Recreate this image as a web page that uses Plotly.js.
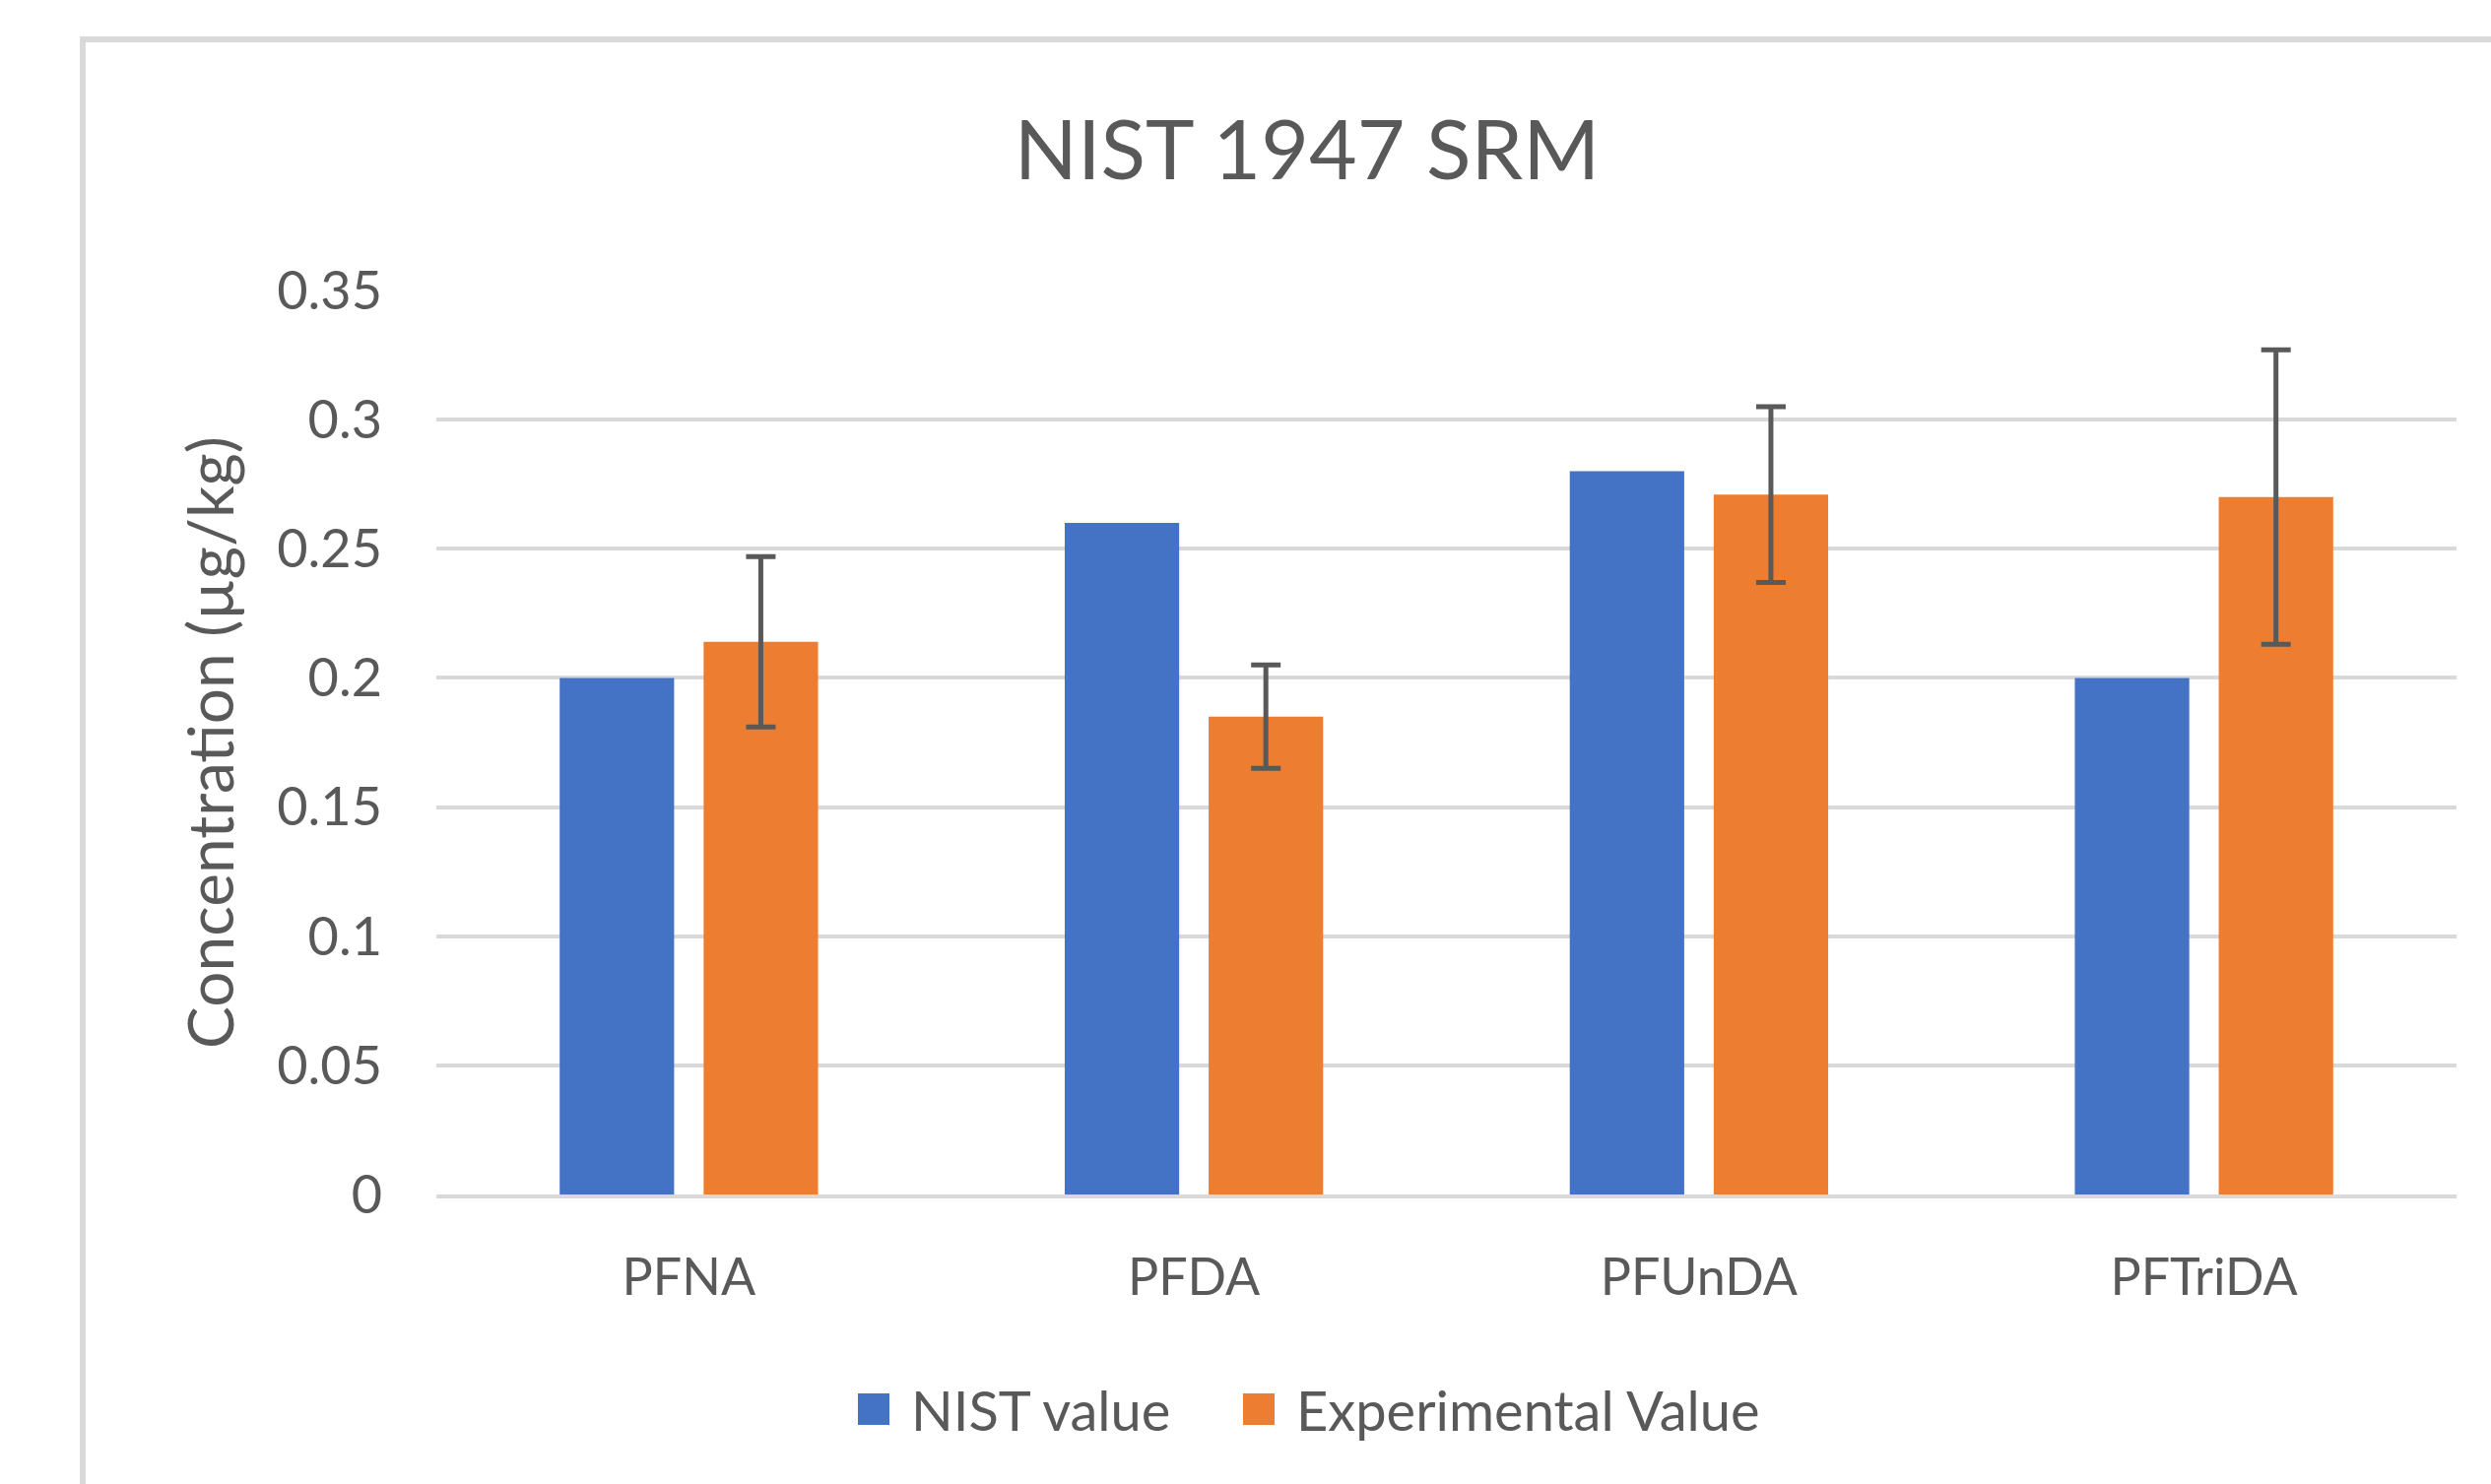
<!DOCTYPE html>
<html>
<head>
<meta charset="utf-8">
<script src="https://cdn.plot.ly/plotly-3.0.1.min.js"></script>
<style>
  html, body { margin: 0; padding: 0; background: #ffffff; }
  #chart { width: 2529px; height: 1507px; }
</style>
</head>
<body>
<div id="chart"></div>
<script>
// ---- data ----
const categories = ["PFNA", "PFDA", "PFUnDA", "PFTriDA"];
const nistValues = [0.200, 0.260, 0.280, 0.200];
const experimentalValues = [0.214, 0.185, 0.271, 0.270];
const experimentalErrors = [0.033, 0.020, 0.034, 0.057];
const seriesNames = ["NIST value", "Experimental Value"];
const yTicks = [0, 0.05, 0.1, 0.15, 0.2, 0.25, 0.3, 0.35];

const FONT = "Lato, 'Open Sans', sans-serif";
const TXT = "#595959";

const traces = [
  {
    type: "bar",
    name: seriesNames[0],
    x: categories,
    y: nistValues,
    marker: { color: "#4472C4" },
    legend: "legend",
    hoverinfo: "x+y+name"
  },
  {
    type: "bar",
    name: seriesNames[1],
    x: categories,
    y: experimentalValues,
    marker: { color: "#ED7D31" },
    legend: "legend2",
    error_y: {
      type: "data",
      array: experimentalErrors,
      visible: true,
      color: "#595959",
      thickness: 5,
      width: 15
    },
    hoverinfo: "x+y+name"
  }
];

const W = 2529, H = 1507;
const mL = 443, mR = 35, mT = 295, mB = 294;
const plotW = W - mL - mR, plotH = H - mT - mB;
const legY = -(1431 - (mT + plotH)) / plotH;

function legendCfg(leftPx) {
  return {
    orientation: "h",
    x: (leftPx - mL) / plotW,
    xanchor: "left",
    y: legY,
    yanchor: "middle",
    font: { family: FONT, size: 56, color: TXT },
    itemwidth: 62,
    bgcolor: "rgba(0,0,0,0)",
    borderwidth: 0
  };
}

const layout = {
  width: W,
  height: H,
  margin: { l: mL, r: mR, t: mT, b: mB, pad: 0 },
  paper_bgcolor: "#ffffff",
  plot_bgcolor: "#ffffff",
  font: { family: FONT, color: TXT, size: 54 },
  title: {
    text: "NIST 1947 SRM",
    font: { family: FONT, size: 84, color: TXT },
    xref: "container",
    yref: "container",
    x: 1327 / W,
    xanchor: "center",
    y: 1 - 153 / H,
    yanchor: "middle"
  },
  barmode: "group",
  bargap: 0.43,
  bargroupgap: 0.205,
  showlegend: true,
  legend: legendCfg(853),
  legend2: legendCfg(1244),
  xaxis: {
    type: "category",
    tickfont: { family: FONT, size: 52, color: TXT },
    ticks: "",
    ticklabelstandoff: 36,
    showgrid: false,
    showline: true,
    linecolor: "#D9D9D9",
    linewidth: 4,
    zeroline: false,
    fixedrange: true
  },
  yaxis: {
    range: [0, 0.35],
    tickvals: yTicks,
    ticktext: yTicks.map(v => String(v)),
    tickfont: { family: FONT, size: 54, color: TXT },
    ticks: "",
    ticklabelstandoff: 54,
    showgrid: true,
    gridcolor: "#D9D9D9",
    gridwidth: 4,
    zeroline: false,
    showline: false,
    title: {
      text: "Concentration (µg/kg)",
      font: { family: FONT, size: 64, color: TXT },
      standoff: 22
    },
    fixedrange: true
  },
  shapes: [
    {
      type: "rect",
      xref: "paper",
      yref: "paper",
      x0: (84 - mL) / plotW,
      x1: (2600 - mL) / plotW,
      y0: (mT + plotH - 1560) / plotH,
      y1: (mT + plotH - 40) / plotH,
      line: { color: "#D9D9D9", width: 6 },
      fillcolor: "rgba(0,0,0,0)",
      layer: "below"
    }
  ]
};

Plotly.newPlot("chart", traces, layout, { displayModeBar: false, staticPlot: true }).then(function (gd) {
  // enlarge legend swatches to ~32px squares, ~22px before the text as in the reference
  gd.querySelectorAll(".legendpoints path").forEach(function (p) {
    p.setAttribute("d", "M14,16H-18V-16H14Z");
  });
});
</script>
</body>
</html>
